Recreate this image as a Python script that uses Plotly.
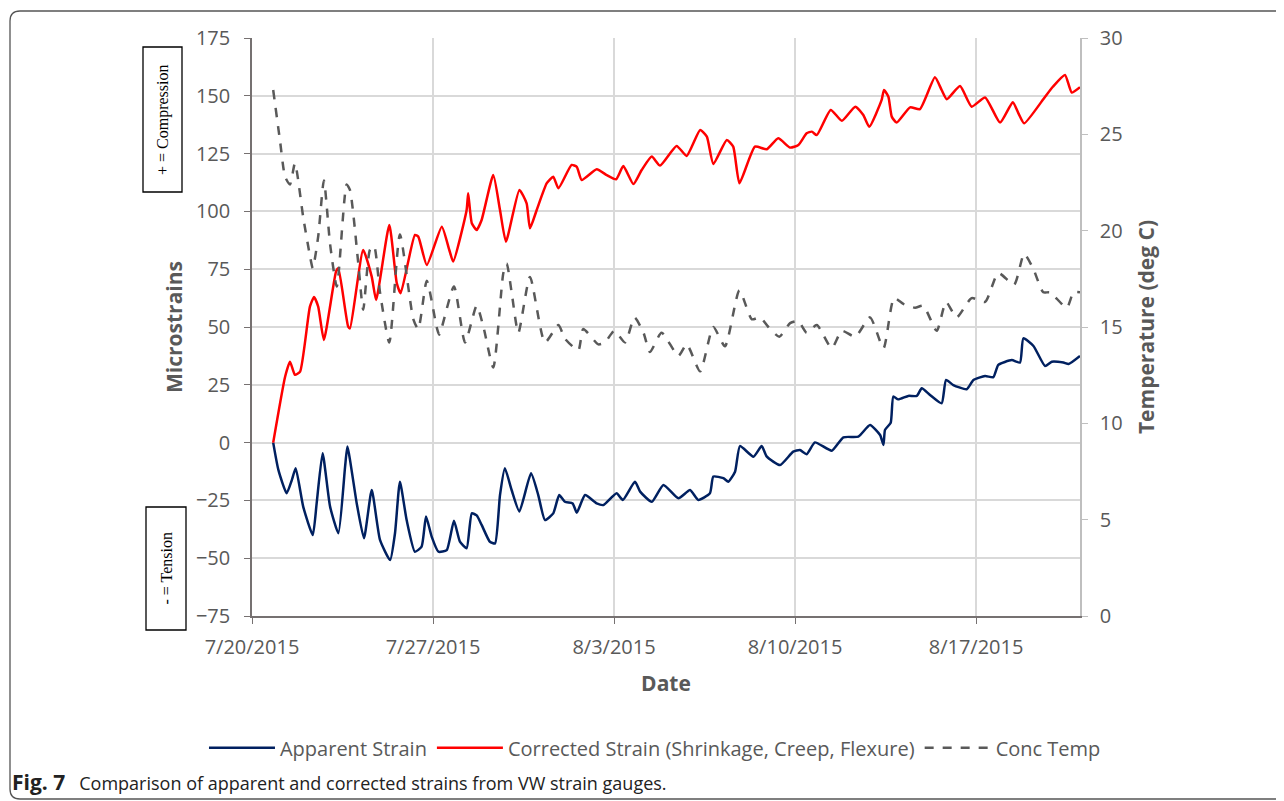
import pandas as pd
import plotly.graph_objects as go

# days since 7/20/2015 00:00
app_days = [0.82, 1.02, 1.34, 1.54, 1.69, 1.98, 2.35, 2.50, 2.73, 3.02, 3.34, 3.60, 3.69, 4.05, 4.33,
            4.63, 4.95, 5.34, 5.53, 5.72, 5.98, 6.30, 6.56, 6.73, 6.95, 7.21, 7.53, 7.81, 8.04, 8.30,
            8.50, 8.69, 8.88, 9.20, 9.40, 9.59, 9.78, 10.04, 10.34, 10.79, 11.07, 11.33, 11.65, 11.88,
            12.10, 12.40, 12.56, 12.88, 13.33, 13.59, 14.10, 14.34, 14.81, 15.01, 15.46, 15.91, 16.49,
            16.94, 17.26, 17.71, 17.84, 18.23, 18.42, 18.68, 18.87, 19.39, 19.71, 19.91, 20.42, 20.93,
            21.19, 21.45, 21.77, 22.42, 22.87, 23.45, 23.90, 24.29, 24.42, 24.48, 24.70, 24.80, 24.99,
            25.38, 25.71, 25.90, 26.22, 26.67, 26.84, 27.12, 27.64, 27.90, 28.35, 28.67, 28.86, 29.38,
            29.70, 29.83, 30.22, 30.67, 30.93, 31.38, 31.58, 32.02]
app_strain = [0, -11.8, -21.9, -16.2, -11.1, -27.7, -40.0, -26.3, -4.6, -27.7, -39.2, -10.4, -1.7, -26.3, -41.4,
              -20.5, -42.1, -50.8, -39.2, -16.9, -33.5, -47.2, -45.0, -32.0, -40.7, -47.2, -46.5, -33.8, -42.8, -45.7,
              -30.6, -31.5, -35.6, -42.9, -43.6, -22.7, -11.1, -20.5, -29.8, -13.3, -22.7, -33.5, -30.6, -22.7,
              -25.6, -26.3, -30.3, -22.7, -26.3, -27.0, -21.9, -24.8, -16.9, -21.2, -25.6, -18.3, -24.1,
              -20.5, -24.8, -21.9, -14.7, -15.4, -16.9, -12.6, -1.5, -6.1, -1.5, -6.1, -9.7, -3.9,
              -3.2, -5.0, 0.1, -3.5, 2.3, 2.6, 7.6, 3.3, -1.0, 5.5, 8.6, 19.9, 18.7,
              20.2, 20.2, 23.5, 20.6, 17.0, 27.1, 24.9, 23.1, 27.1, 28.8, 28.3, 33.6, 35.7,
              34.6, 45.1, 41.8, 33.1, 35.0, 34.6, 34.0, 37.5]

cor_days = [0.82, 1.28, 1.47, 1.66, 1.86, 2.24, 2.40, 2.56, 2.78, 3.25, 3.34, 3.72, 3.79, 4.30, 4.63,
            4.80, 5.31, 5.60, 5.75, 6.30, 6.43, 6.76, 7.34, 7.63, 7.78, 8.30, 8.36, 8.50, 8.69, 8.88,
            9.33, 9.59, 9.82, 10.34, 10.62, 10.75, 11.01, 11.40, 11.65, 11.85, 12.36, 12.56, 12.75,
            13.33, 13.72, 14.08, 14.36, 14.75, 15.07, 15.46, 15.78, 16.42, 16.81, 17.33, 17.59, 17.84,
            18.36, 18.61, 18.85, 19.45, 19.91, 20.35, 20.81, 21.13, 21.45, 21.65, 21.84, 22.38, 22.81,
            23.33, 23.64, 23.87, 24.35, 24.44, 24.61, 24.74, 24.93, 25.45, 25.83, 26.41, 26.67, 26.87,
            27.38, 27.83, 28.35, 28.93, 29.42, 29.64, 29.86, 30.60, 30.97, 31.44, 31.70, 32.02]
cor_strain = [0, 28.5, 35.0, 29.3, 30.7, 58.8, 63.0, 58.8, 44.4, 74.0, 75.4, 50.1, 49.4, 83.3, 71.8,
              61.7, 94.1, 68.9, 64.6, 89.8, 89.1, 76.8, 93.4, 83.3, 78.3, 100.6, 107.8, 94.9, 92.0, 96.3,
              115.7, 100.6, 86.9, 109.3, 103.5, 92.7, 100.6, 112.2, 115.0, 110.0, 120.1, 119.3, 113.6,
              118.2, 115.7, 113.9, 119.6, 111.8, 117.9, 123.7, 119.8, 128.3, 124.0, 135.2, 132.3, 120.5,
              130.9, 128.0, 112.2, 128.0, 126.9, 131.6, 127.6, 128.7, 133.8, 134.5, 133.0, 143.9, 139.2,
              145.3, 141.7, 136.6, 148.2, 152.5, 149.6, 141.0, 138.4, 145.0, 144.2, 158.0, 152.5, 148.5,
              154.2, 145.3, 149.3, 138.4, 147.2, 142.4, 138.1, 148.5, 153.9, 159.0, 151.4, 153.7]

temp_days = [0.82, 1.08, 1.28, 1.47, 1.66, 1.98, 2.24, 2.35, 2.56, 2.78, 3.02, 3.28, 3.66, 3.79, 4.11,
             4.30, 4.56, 4.72, 4.95, 5.31, 5.72, 6.24, 6.43, 6.76, 7.14, 7.24, 7.81, 8.24, 8.69, 8.95,
             9.33, 9.72, 9.85, 10.04, 10.30, 10.75, 11.33, 11.85, 12.10, 12.62, 12.81, 13.39, 13.65,
             14.01, 14.43, 14.79, 15.14, 15.39, 15.84, 16.49, 16.81, 17.33, 17.84, 18.29, 18.85, 19.33,
             19.65, 19.97, 20.39, 20.81, 21.13, 21.45, 21.84, 22.42, 22.81, 23.33, 23.90, 24.42, 24.83,
             25.19, 25.64, 25.96, 26.48, 26.84, 27.25, 27.83, 28.35, 28.86, 29.47, 29.86, 30.22, 30.60,
             30.86, 31.51, 31.77, 32.02]
temp_c = [27.3, 24.7, 22.8, 22.4, 23.5, 20.7, 18.7, 18.05, 19.7, 22.6, 19.3, 17.1, 22.4, 22.1, 18.3,
          15.9, 19.0, 19.2, 16.8, 14.2, 19.8, 15.4, 14.9, 17.4, 15.0, 14.6, 17.1, 14.2, 16.1, 15.0,
          12.9, 17.8, 18.3, 16.8, 14.7, 17.6, 14.2, 15.1, 14.4, 13.8, 14.9, 14.1, 14.2,
          14.8, 14.2, 15.5, 14.7, 13.7, 14.7, 13.5, 14.1, 12.7, 15.0, 14.0, 16.9, 15.4,
          15.5, 15.0, 14.5, 15.2, 15.3, 14.7, 15.1, 13.9, 14.8, 14.5, 15.5, 13.9, 16.5,
          16.2, 16.0, 16.1, 14.8, 16.3, 15.5, 16.5, 16.3, 17.8, 17.2, 18.8, 18.0, 16.8,
          16.8, 16.0, 16.8, 16.8]

tick_dates = ["2015-07-20", "2015-07-27", "2015-08-03", "2015-08-10", "2015-08-17"]
tick_labels = ["7/20/2015", "7/27/2015", "8/3/2015", "8/10/2015", "8/17/2015"]

start = pd.Timestamp("2015-07-20")


def to_dates(days):
    return start + pd.to_timedelta(days, unit="D")


GRAY = "#595959"
GRID = "#d9d9d9"
FONT = "Open Sans"

fig = go.Figure()
fig.add_trace(go.Scatter(x=to_dates(app_days), y=app_strain, name="Apparent Strain", mode="lines",
                         line=dict(color="#002060", width=2.5, shape="spline", smoothing=0.5)))
fig.add_trace(go.Scatter(x=to_dates(cor_days), y=cor_strain, name="Corrected Strain (Shrinkage, Creep, Flexure)",
                         mode="lines", line=dict(color="#ff0000", width=2.5, shape="spline", smoothing=0.5)))
fig.add_trace(go.Scatter(x=to_dates(temp_days), y=temp_c, name="Conc Temp", mode="lines", yaxis="y2",
                         line=dict(color=GRAY, width=2.5, dash="dash", shape="spline", smoothing=0.6)))

# page has an 8px body margin, so margins are shifted to keep the plot area in place
fig.update_layout(
    width=1284, height=801,
    margin=dict(l=244, r=212, t=30, b=193),
    paper_bgcolor="white", plot_bgcolor="white",
    font=dict(family=FONT, size=20, color=GRAY),
    xaxis=dict(
        range=[start, to_dates(32.02)],
        tickvals=pd.to_datetime(tick_dates), ticktext=tick_labels,
        showgrid=True, gridcolor=GRID, gridwidth=1.5,
        showline=True, linecolor="#767171", linewidth=1.5,
        ticks="outside", ticklen=6, tickcolor="#767171", ticklabelstandoff=6,
        zeroline=False,
        title=dict(text="<b>Date</b>", font=dict(size=21, color=GRAY), standoff=18),
    ),
    yaxis=dict(
        range=[-75, 175], dtick=25, tick0=0,
        showgrid=True, gridcolor=GRID, gridwidth=1.5,
        showline=True, linecolor="#767171", linewidth=1.5,
        ticks="outside", ticklen=6, tickcolor="#767171", ticklabelstandoff=10,
        zeroline=False,
        title=dict(text="<b>Microstrains</b>", font=dict(size=21, color=GRAY), standoff=8),
    ),
    yaxis2=dict(
        range=[0, 30], dtick=5, overlaying="y", side="right",
        showgrid=False, showline=True, linecolor="#bfbfbf", linewidth=1.5,
        ticks="outside", ticklen=6, tickcolor="#bfbfbf", ticklabelstandoff=8,
        zeroline=False,
        title=dict(text="<b>Temperature (deg C)</b>", font=dict(size=21, color=GRAY), standoff=18),
    ),
    showlegend=True,
    legend=dict(orientation="h", x=-0.058, y=-0.228, xanchor="left", yanchor="middle",
                font=dict(size=20, color=GRAY), itemwidth=66, tracegroupgap=0),
)


def px_x(x):
    return (x - 252) / 828


def px_y(y):
    return (616 - y) / 578


# sign convention boxes
for x0, y0, x1, y1, label in [(143, 47, 182, 192, "+ = Compression"), (146, 507, 186, 630, "- = Tension")]:
    fig.add_shape(type="rect", xref="paper", yref="paper",
                  x0=px_x(x0), x1=px_x(x1), y0=px_y(y0), y1=px_y(y1),
                  line=dict(color="black", width=1.3), fillcolor="white")
    fig.add_annotation(xref="paper", yref="paper", x=px_x((x0 + x1) / 2), y=px_y((y0 + y1) / 2),
                       xanchor="center", yanchor="middle",
                       text=label, textangle=-90, showarrow=False,
                       font=dict(family="Liberation Serif", size=16, color="black"))

# outer frame with rounded left corners
pts = dict(xr=px_x(1300), xl=px_x(10), xc=px_x(20), yt=px_y(11), ytc=px_y(21), yb=px_y(799), ybc=px_y(789))
path = ("M {xr},{yt} L {xc},{yt} Q {xl},{yt} {xl},{ytc} L {xl},{ybc} Q {xl},{yb} {xc},{yb} L {xr},{yb}"
        .format(**pts))
fig.add_shape(type="path", xref="paper", yref="paper", path=path, line=dict(color="#555555", width=1.3))

fig.add_annotation(xref="paper", yref="paper", x=px_x(10), y=px_y(782), xanchor="left", yanchor="middle",
                   showarrow=False, align="left",
                   text=("<span style='font-size:21px'><b>Fig. 7</b></span>   "
                         "Comparison of apparent and corrected strains from VW strain gauges."),
                   font=dict(family=FONT, size=18, color="#222222"))

fig.write_html("out.html")
